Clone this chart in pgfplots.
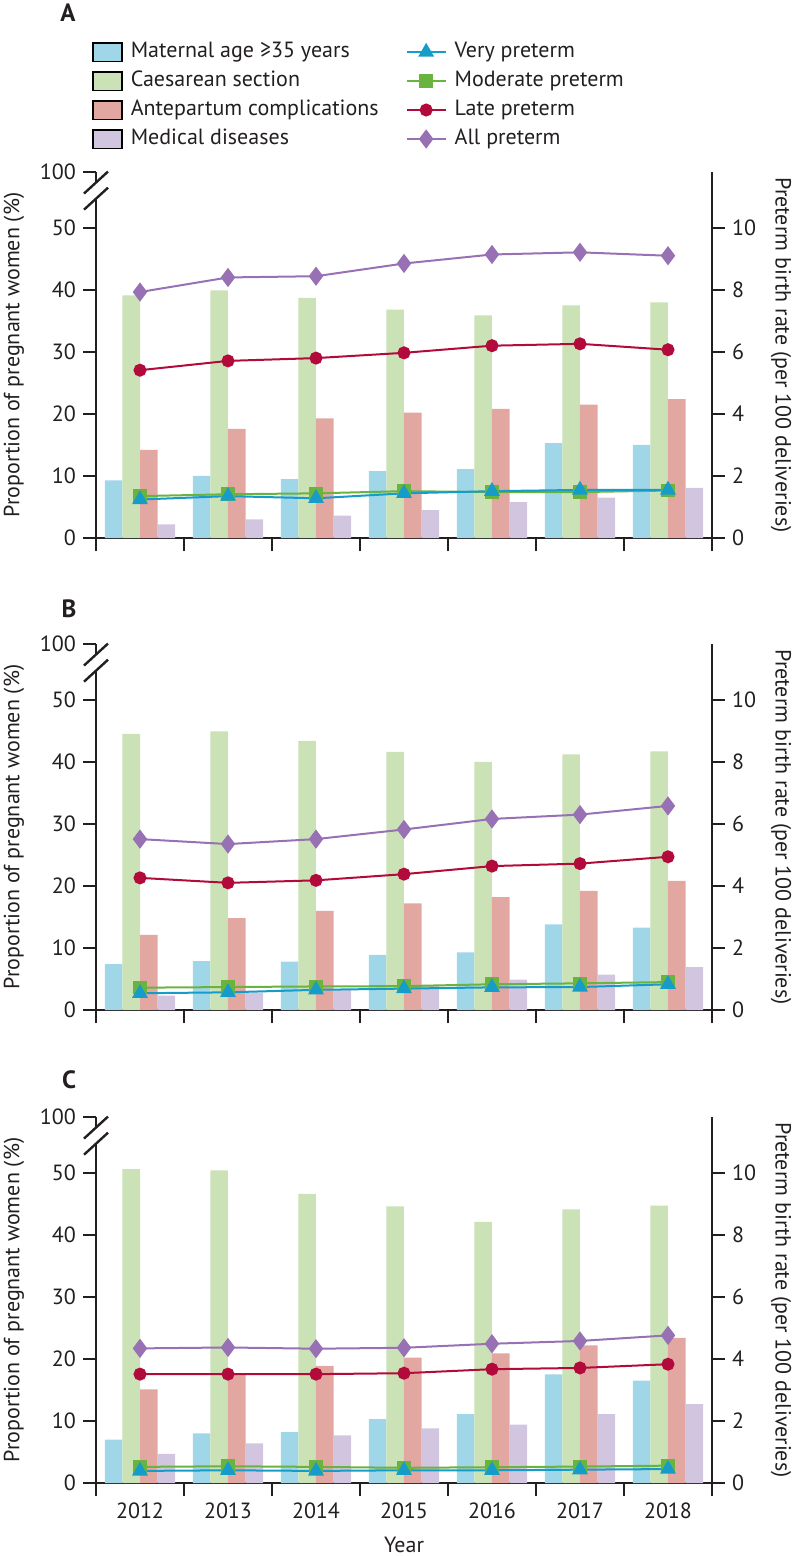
\documentclass[border=0pt]{standalone}
\usepackage{fontspec}
\setmainfont{PT Sans}
\usepackage{pgfplots}
\usepackage{pgfplotstable}
\pgfplotsset{compat=1.18}

\definecolor{axisgray}{HTML}{231F20}
\definecolor{barAge}{HTML}{9FD6E8}
\definecolor{barCS}{HTML}{CAE2B6}
\definecolor{barAnte}{HTML}{E2A7A0}
\definecolor{barMed}{HTML}{D2C5E0}
\definecolor{lnVery}{HTML}{169CC8}
\definecolor{lnMod}{HTML}{6BB33F}
\definecolor{lnLate}{HTML}{B30A3C}
\definecolor{lnAll}{HTML}{9771B4}

\newcommand{\lbl}{\fontsize{11}{13}\selectfont}

% year: 0=2012 ... 6=2018; bars in %, lines per 100 deliveries
\pgfplotstableread{
x age cs ante med very mod late all
0 9.3 39.1 14.2 2.2 1.24 1.35 5.41 7.93
1 10.0 39.9 17.6 3.0 1.35 1.41 5.71 8.40
2 9.5 38.7 19.3 3.6 1.28 1.44 5.80 8.44
3 10.8 36.8 20.2 4.5 1.44 1.51 5.97 8.85
4 11.1 35.9 20.8 5.8 1.51 1.48 6.20 9.14
5 15.3 37.5 21.5 6.5 1.55 1.48 6.26 9.21
6 15.0 38.0 22.4 8.1 1.55 1.53 6.07 9.10
}\dataA
\pgfplotstableread{
x age cs ante med very mod late all
0 7.4 44.5 12.1 2.3 0.54 0.72 4.26 5.51
1 7.9 44.9 14.8 2.8 0.57 0.74 4.10 5.35
2 7.8 43.4 16.0 3.2 0.65 0.76 4.18 5.51
3 8.9 41.6 17.2 4.0 0.69 0.77 4.38 5.82
4 9.3 40.0 18.2 4.9 0.73 0.83 4.64 6.16
5 13.8 41.2 19.2 5.7 0.74 0.86 4.72 6.30
6 13.3 41.7 20.8 6.9 0.83 0.90 4.94 6.58
}\dataB
\pgfplotstableread{
x age cs ante med very mod late all
0 7.0 50.6 15.1 4.7 0.39 0.52 3.51 4.34
1 8.0 50.4 17.7 6.4 0.41 0.54 3.51 4.37
2 8.2 46.6 18.9 7.7 0.39 0.52 3.51 4.33
3 10.3 44.6 20.2 8.8 0.41 0.49 3.54 4.36
4 11.1 42.1 20.9 9.4 0.41 0.51 3.67 4.49
5 17.5 44.1 22.2 11.1 0.43 0.53 3.71 4.58
6 16.5 44.7 23.4 12.7 0.45 0.56 3.83 4.76
}\dataC

\pgfplotsset{
  panel/.style={
    width=308pt, height=183pt, scale only axis,
    xmin=-0.5, xmax=6.5,
    tick align=outside, major tick length=6.5pt,
    every tick/.style={line width=1.2pt, color=axisgray},
    axis line style={-, line width=1.2pt, color=axisgray},
    ticklabel style={font=\lbl, text=axisgray},
    label style={font=\lbl, text=axisgray},
    /pgf/number format/assume math mode=true,
  },
  bars/.style={ybar, bar width=0.2, bar shift=#1, draw=none, forget plot},
  pline/.style={line width=1pt, forget plot, mark options={solid}},
  barleg/.style={legend image code/.code={%
    \draw[fill=#1, draw=black, line width=0.9pt] (0pt,-4.7pt) rectangle (14.5pt,4.7pt);}},
  lineleg/.style={legend image code/.code={%
    \draw[mark repeat=2, mark phase=2, ##1] plot coordinates {(0pt,0pt) (9.75pt,0pt) (19.5pt,0pt)};}},
}

% #1 bottom of panel, #2 table, #3 extra options (left axis), #4 extra content (left axis)
\newcommand{\panel}[4]{%
\begin{axis}[panel, at={(48pt,#1)}, anchor=south west,
  axis x line*=bottom, axis y line*=left, y axis line style={draw=none},
  ymin=0, ymax=59, ytick={0,10,20,30,40,50,59}, yticklabels={0,10,20,30,40,50,100},
  xtick={-0.5,0.5,...,6.5}, xticklabels={},
  clip=false,
  ylabel={Proportion of pregnant women (\%)},
  ylabel style={at={(axis description cs:-0.1331,0.5)}, anchor=center},
  #3]
#4
\addplot[bars=-0.3, fill=barAge] table[x=x, y=age] {#2};
\addplot[bars=-0.1, fill=barCS] table[x=x, y=cs] {#2};
\addplot[bars=0.1, fill=barAnte] table[x=x, y=ante] {#2};
\addplot[bars=0.3, fill=barMed] table[x=x, y=med] {#2};
% broken left axis
\draw[line width=1.2pt, color=axisgray] (axis cs:-0.5,0) -- (axis cs:-0.5,54.7);
\draw[line width=1.2pt, color=axisgray] (axis cs:-0.5,57.3) -- (axis cs:-0.5,59);
\draw[line width=1.2pt, color=axisgray] ([shift={(-6pt,-5.5pt)}]axis cs:-0.5,57.3) -- ([shift={(6pt,5.5pt)}]axis cs:-0.5,57.3);
\draw[line width=1.2pt, color=axisgray] ([shift={(-6pt,-5.5pt)}]axis cs:-0.5,54.7) -- ([shift={(6pt,5.5pt)}]axis cs:-0.5,54.7);
\end{axis}
\begin{axis}[panel, at={(48pt,#1)}, anchor=south west,
  axis x line=none, axis y line*=right,
  ymin=0, ymax=11.8, ytick={0,2,4,6,8,10}, yticklabels={0,2,4,6,8,10},
  ylabel={Preterm birth rate (per 100 deliveries)},
  ylabel style={at={(axis description cs:1.112,0.5)}, anchor=center, rotate=180}]
\addplot[pline, color=lnAll, mark=diamond*, mark size=4pt] table[x=x, y=all] {#2};
\addplot[pline, color=lnLate, mark=*, mark size=2.75pt] table[x=x, y=late] {#2};
\addplot[pline, color=lnMod, mark=square*, mark size=2.9pt] table[x=x, y=mod] {#2};
\addplot[pline, color=lnVery, mark=triangle*, mark size=3.6pt] table[x=x, y=very] {#2};
\end{axis}}

\begin{document}
\begin{tikzpicture}
\useasboundingbox (0,0) rectangle (396.5pt,-778pt);

\panel{-269pt}{\dataA}{%
  legend columns=2, legend cell align=left,
  legend style={at={(axis description cs:0,1)}, anchor=north west,
    xshift=-2pt, yshift=66.25pt, draw=none, fill=none,
    inner sep=0pt, outer sep=0pt, font=\lbl, row sep=2pt,
    nodes={inner sep=1pt, text height=8pt, text depth=2.5pt, text=axisgray},
    /tikz/every even column/.append style={column sep=12.5pt},
    /tikz/every odd column/.append style={column sep=3pt}},
}{%
  \addlegendimage{barleg=barAge}
  \addlegendentry{Maternal age ≥35 years}
  \addlegendimage{lineleg, color=lnVery, line width=1pt, mark=triangle*, mark size=3.6pt}
  \addlegendentry{Very preterm}
  \addlegendimage{barleg=barCS}
  \addlegendentry{Caesarean section}
  \addlegendimage{lineleg, color=lnMod, line width=1pt, mark=square*, mark size=2.9pt}
  \addlegendentry{Moderate preterm}
  \addlegendimage{barleg=barAnte}
  \addlegendentry{Antepartum complications}
  \addlegendimage{lineleg, color=lnLate, line width=1pt, mark=*, mark size=2.75pt}
  \addlegendentry{Late preterm}
  \addlegendimage{barleg=barMed}
  \addlegendentry{Medical diseases}
  \addlegendimage{lineleg, color=lnAll, line width=1pt, mark=diamond*, mark size=4pt}
  \addlegendentry{All preterm}
}
\node[font=\bfseries\fontsize{12.5}{15}\selectfont, text=axisgray] at (34pt,-6.5pt) {A};

\panel{-505pt}{\dataB}{}{}
\node[font=\bfseries\fontsize{12.5}{15}\selectfont, text=axisgray] at (34.5pt,-304.5pt) {B};

\panel{-741.5pt}{\dataC}{%
  extra x ticks={0,1,2,3,4,5,6},
  extra x tick labels={2012,2013,2014,2015,2016,2017,2018},
  extra x tick style={tick style={draw=none}},
  xlabel={Year},
  xlabel style={at={(axis description cs:0.5,-0.169)}, anchor=center},
}{}
\node[font=\bfseries\fontsize{12.5}{15}\selectfont, text=axisgray] at (34.5pt,-540pt) {C};
\end{tikzpicture}
\end{document}
